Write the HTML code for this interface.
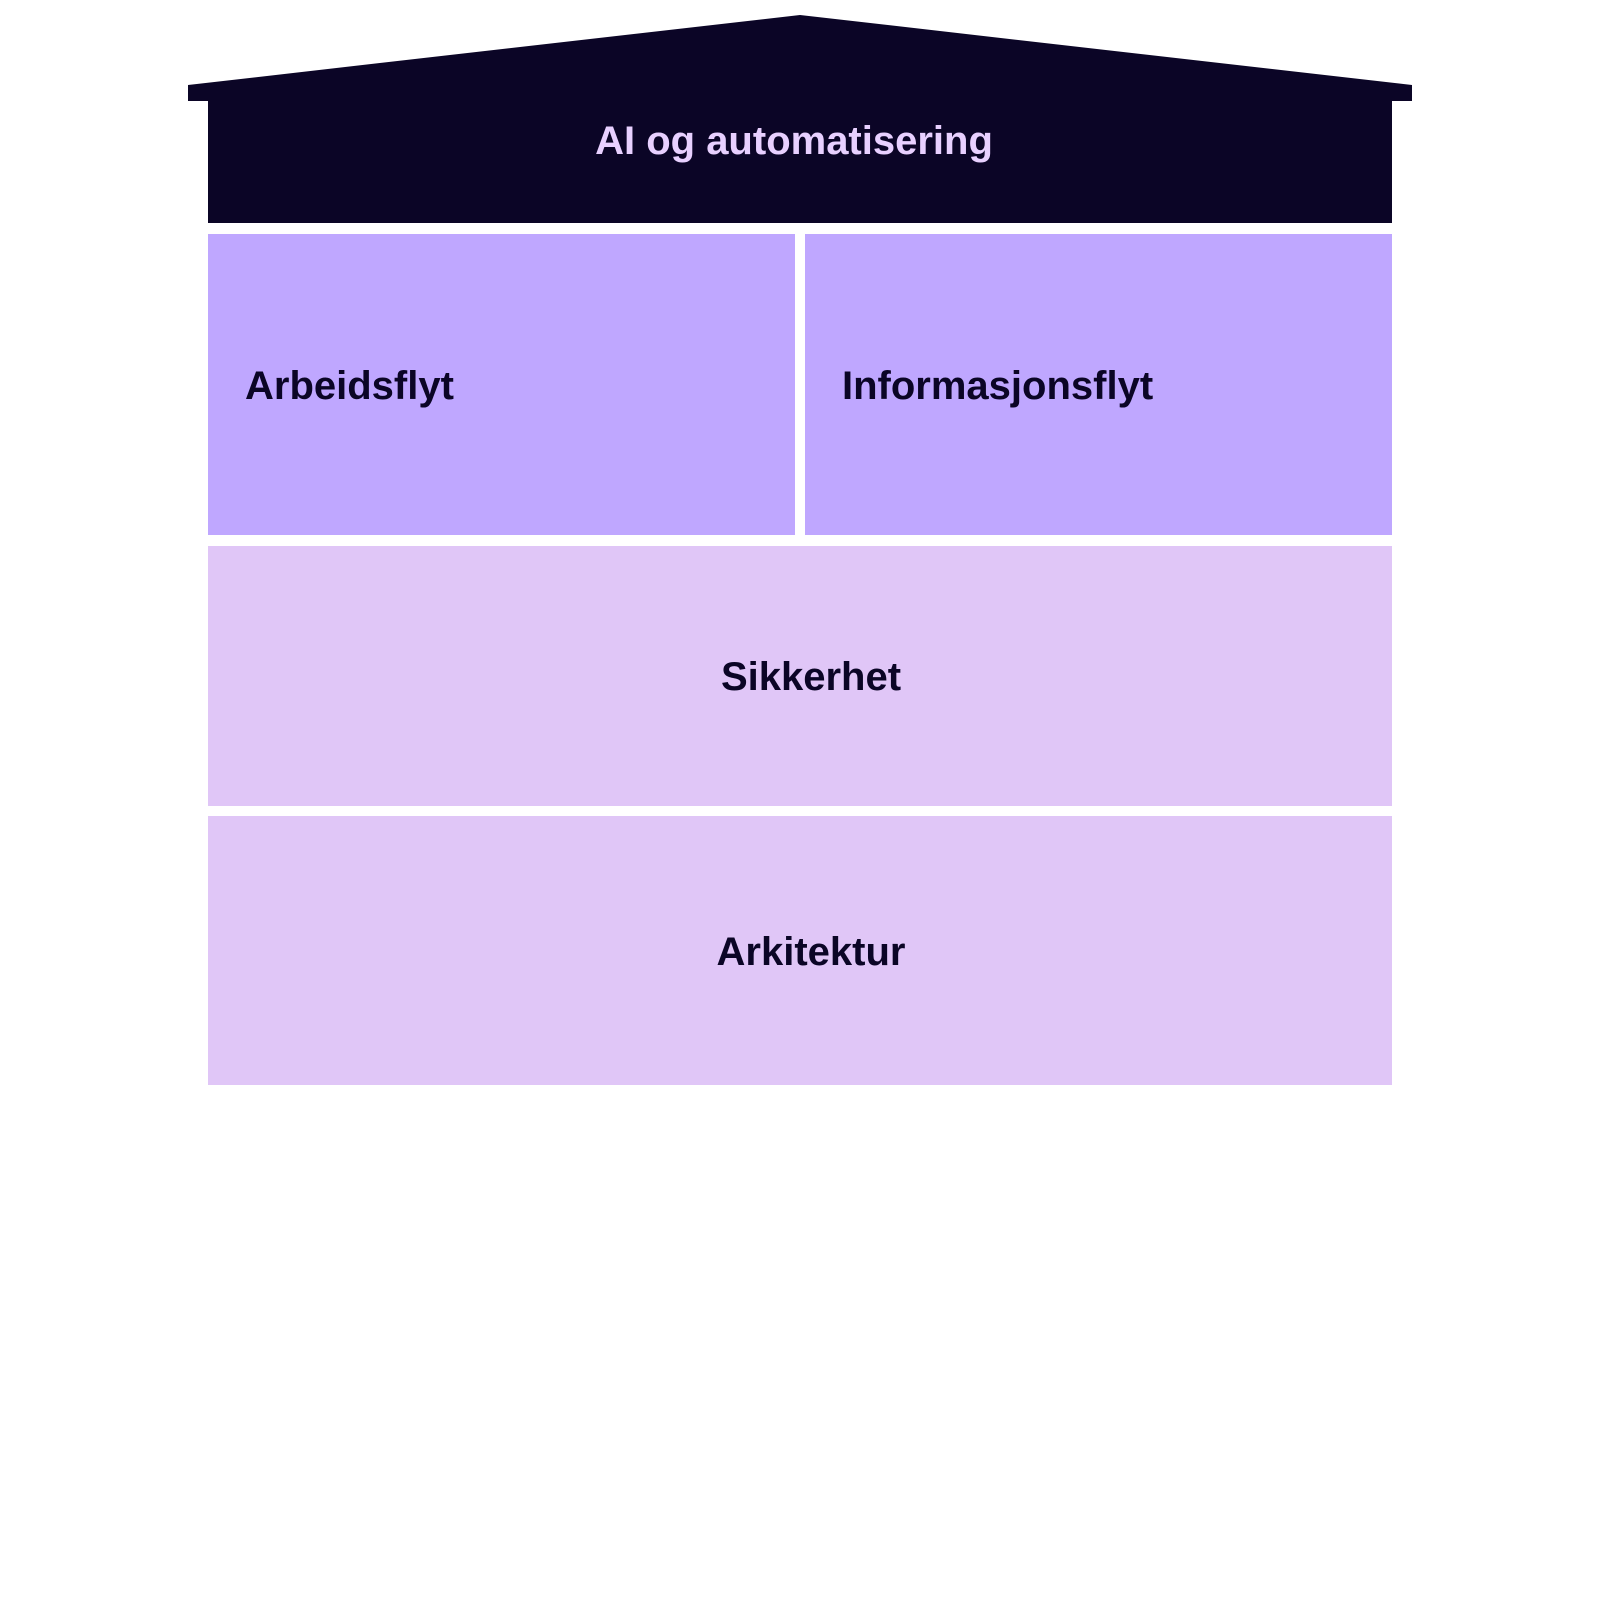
<!DOCTYPE html>
<html><head><meta charset="utf-8"><style>
html,body{margin:0;padding:0;background:#fff;}
body{width:1600px;height:1600px;position:relative;overflow:hidden;font-family:"Liberation Sans",Arial,sans-serif;font-weight:bold;}
.b{position:absolute;}
.t{position:absolute;font-size:40px;line-height:1;white-space:nowrap;color:#0b0526;}
</style></head><body>
<svg class="b" style="left:0;top:0" width="1600" height="240">
<polygon points="800,15 1412,85 1412,101 1392,101 1392,223 208,223 208,101 188,101 188,85" fill="#0b0526"/>
</svg>
<div class="t" style="left:-6px;width:1600px;text-align:center;top:121px;color:#e8d0ff;">AI og automatisering</div>
<div class="b" style="left:208px;top:234px;width:587px;height:301px;background:#bfa7ff"></div>
<div class="b" style="left:805px;top:234px;width:587px;height:301px;background:#bfa7ff"></div>
<div class="t" style="left:245px;top:366px;">Arbeidsflyt</div>
<div class="t" style="left:842px;top:366px;">Informasjonsflyt</div>
<div class="b" style="left:208px;top:546px;width:1184px;height:260px;background:#e0c6f7"></div>
<div class="t" style="left:219px;width:1184px;text-align:center;top:657px;">Sikkerhet</div>
<div class="b" style="left:208px;top:816px;width:1184px;height:269px;background:#e0c6f7"></div>
<div class="t" style="left:219px;width:1184px;text-align:center;top:932px;">Arkitektur</div>
</body></html>
